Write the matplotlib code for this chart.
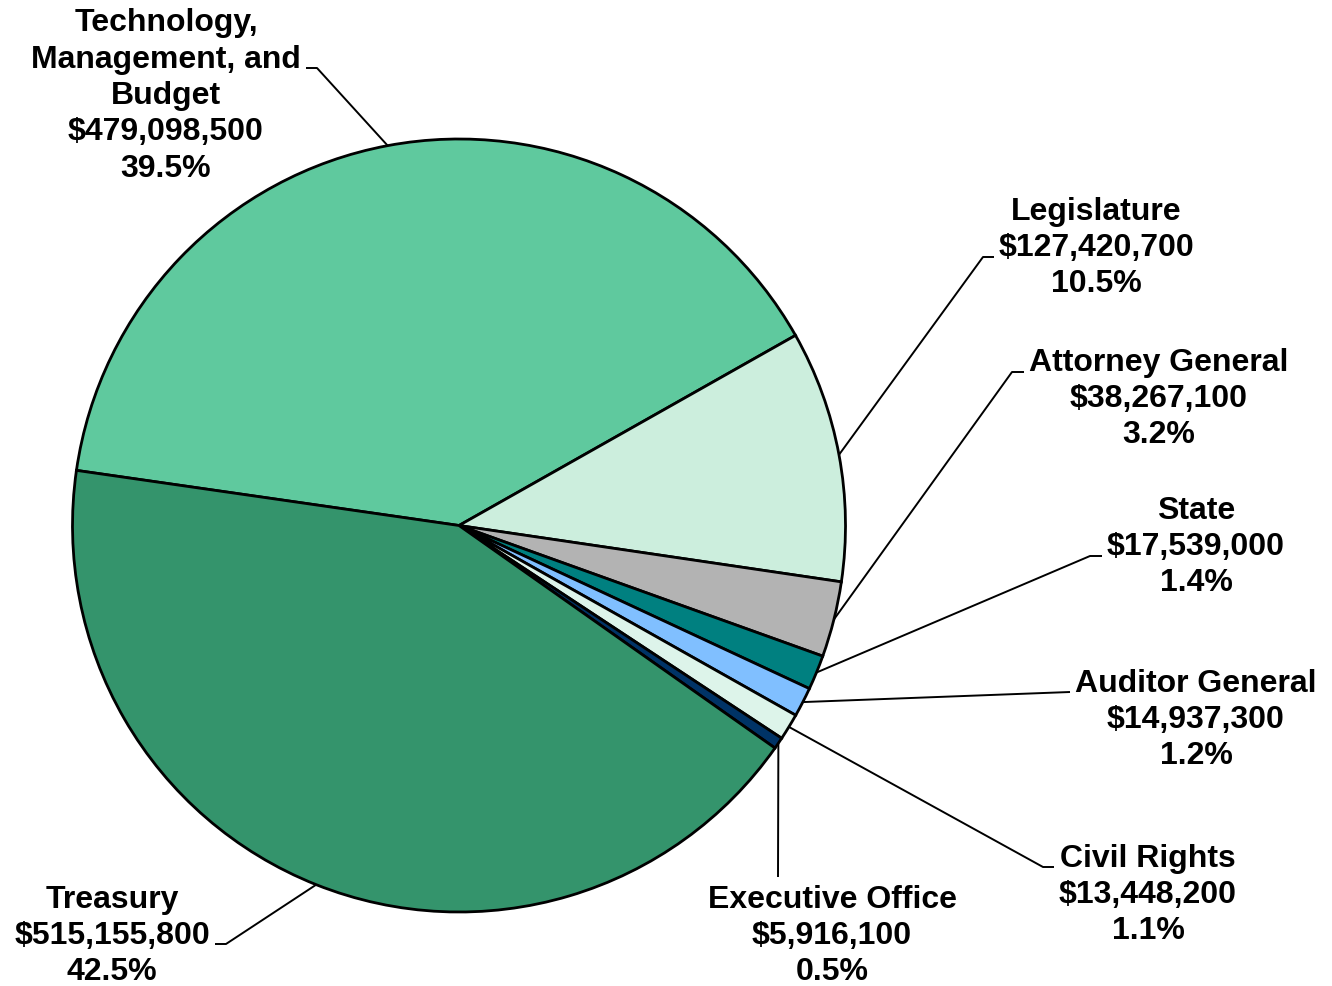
import numpy as np
import matplotlib
matplotlib.use("Agg")
import matplotlib.pyplot as plt

# ---- data ----
departments = ["Technology,\nManagement, and\nBudget", "Legislature", "Attorney General",
               "State", "Auditor General", "Civil Rights", "Executive Office", "Treasury"]
amounts = [479098500, 127420700, 38267100, 17539000, 14937300, 13448200, 5916100, 515155800]
colors = ["#5FC99E", "#CCEEDD", "#B3B3B3", "#008080", "#80BFFF", "#DDF4EA", "#003366", "#34946C"]

# ---- layout (pixel coordinates, y measured from top) ----
W, H = 1332, 986
cx, cy, R = 459, 525.5, 386.5
label_pos = [(166, 96), (1096, 248), (1159, 399), (1196, 547),
             (1196, 720), (1148, 895), (832, 936), (112, 936)]
# leader line knee/end points (text side) in pixels
leader_pts = [
    [(317, 68), (306, 68)],
    [(983, 257), (994, 257)],
    [(1012, 372), (1024, 372)],
    [(1090, 556), (1102, 556)],
    [(1070, 692)],
    [(1043, 867), (1054, 867)],
    [(778, 877)],
    [(226, 944), (215, 944)],
]

plt.rcParams['font.family'] = ['Liberation Sans', 'DejaVu Sans']
fig = plt.figure(figsize=(W / 100, H / 100), dpi=100)
ax = fig.add_axes([0, 0, 1, 1])

total = sum(amounts)
wedges, _ = ax.pie(amounts, colors=colors, startangle=171.8, counterclock=False,
                   center=(cx, H - cy), radius=R,
                   wedgeprops=dict(edgecolor="black", linewidth=2))
ax.set_xlim(0, W)
ax.set_ylim(0, H)
ax.set_aspect('equal')
ax.axis('off')

for w, name, amt, (tx, ty), pts in zip(wedges, departments, amounts, label_pos, leader_pts):
    mid = np.deg2rad((w.theta1 + w.theta2) / 2)
    ax_, ay_ = cx + R * np.cos(mid), (H - cy) + R * np.sin(mid)
    xs = [ax_] + [p[0] for p in pts]
    ys = [ay_] + [H - p[1] for p in pts]
    ax.plot(xs, ys, color="black", lw=1.4, solid_capstyle='butt', zorder=5)
    pct = amt / total * 100
    txt = f"{name}\n${amt:,.0f}\n{pct:.1f}%"
    ax.text(tx, H - ty, txt, ha='center', va='center', fontsize=23,
            fontweight='bold', linespacing=1.28, multialignment='center')

fig.savefig("out.png", dpi=100)
